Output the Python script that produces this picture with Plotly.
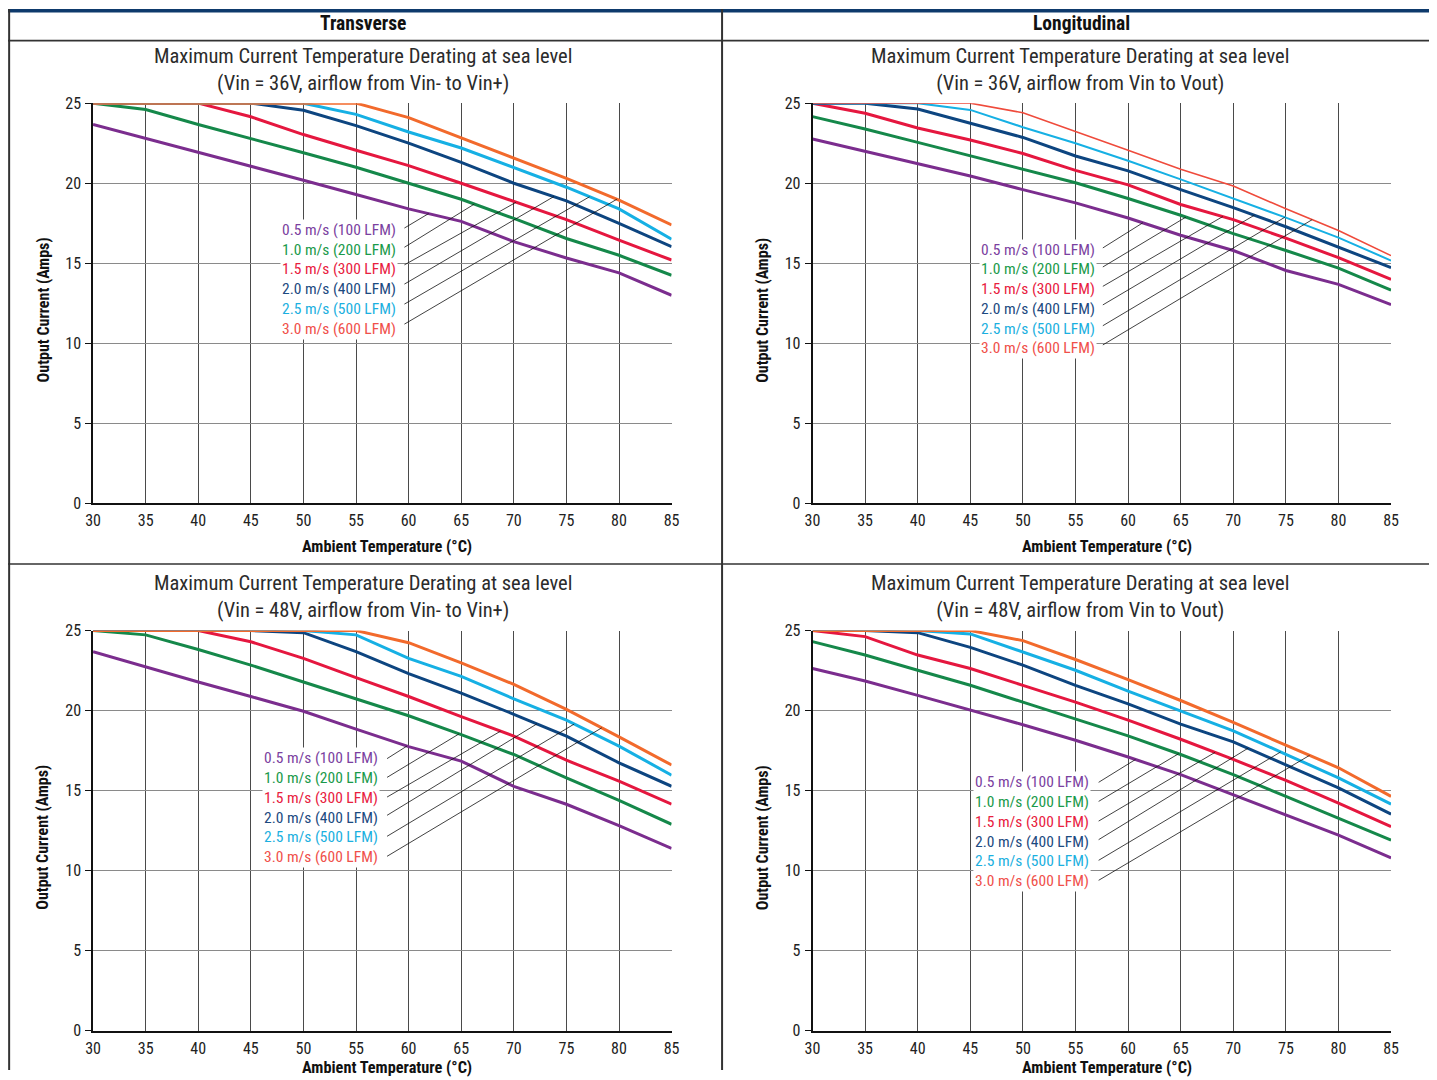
import numpy as np
import plotly.graph_objects as go

# ---------------- data ----------------
temps = [30, 35, 40, 45, 50, 55, 60, 65, 70, 75, 80, 85]
x_ticks = [30, 35, 40, 45, 50, 55, 60, 65, 70, 75, 80, 85]
y_ticks = [0, 5, 10, 15, 20, 25]

series_labels = ["0.5 m/s (100 LFM)", "1.0 m/s (200 LFM)", "1.5 m/s (300 LFM)",
                 "2.0 m/s (400 LFM)", "2.5 m/s (500 LFM)", "3.0 m/s (600 LFM)"]

# 36V, transverse (airflow Vin- to Vin+)
t36_05 = [23.67, 22.8, 21.96, 21.1, 20.19, 19.3, 18.4, 17.62, 16.35, 15.33, 14.4, 13.0]
t36_10 = [25.0, 24.6, 23.67, 22.8, 21.9, 21.0, 20.0, 19.0, 17.8, 16.55, 15.5, 14.25]
t36_15 = [25.0, 25.0, 25.0, 24.15, 23.04, 22.06, 21.1, 20.0, 18.85, 17.73, 16.45, 15.2]
t36_20 = [25.0, 25.0, 25.0, 25.0, 24.56, 23.6, 22.5, 21.3, 20.0, 18.9, 17.5, 16.04]
t36_25 = [25.0, 25.0, 25.0, 25.0, 25.0, 24.3, 23.2, 22.2, 21.0, 19.75, 18.4, 16.5]
t36_30 = [25.0, 25.0, 25.0, 25.0, 25.0, 25.0, 24.1, 22.83, 21.54, 20.3, 18.95, 17.4]

# 36V, longitudinal (airflow Vin to Vout)
l36_05 = [22.76, 22.0, 21.2, 20.45, 19.6, 18.77, 17.83, 16.75, 15.8, 14.55, 13.68, 12.42]
l36_10 = [24.16, 23.39, 22.55, 21.7, 20.87, 20.03, 19.05, 18.0, 16.85, 15.8, 14.7, 13.32]
l36_15 = [25.0, 24.37, 23.45, 22.7, 21.86, 20.8, 19.9, 18.67, 17.73, 16.57, 15.35, 14.0]
l36_20 = [25.0, 25.0, 24.64, 23.74, 22.86, 21.7, 20.77, 19.6, 18.48, 17.28, 16.0, 14.73]
l36_25 = [25.0, 25.0, 25.0, 24.58, 23.5, 22.5, 21.4, 20.24, 19.05, 17.85, 16.6, 15.17]
l36_30 = [25.0, 25.0, 25.0, 25.0, 24.4, 23.24, 22.06, 20.87, 19.82, 18.4, 17.05, 15.48]

# 48V, transverse
t48_05 = [23.68, 22.73, 21.79, 20.88, 19.96, 18.84, 17.75, 16.85, 15.27, 14.15, 12.82, 11.39]
t48_10 = [25.0, 24.73, 23.82, 22.84, 21.79, 20.74, 19.68, 18.5, 17.26, 15.8, 14.4, 12.9]
t48_15 = [25.0, 25.0, 25.0, 24.3, 23.26, 22.06, 20.88, 19.62, 18.41, 16.9, 15.59, 14.16]
t48_20 = [25.0, 25.0, 25.0, 25.0, 24.87, 23.68, 22.31, 21.09, 19.77, 18.41, 16.74, 15.27]
t48_25 = [25.0, 25.0, 25.0, 25.0, 25.0, 24.73, 23.26, 22.14, 20.74, 19.4, 17.78, 15.97]
t48_30 = [25.0, 25.0, 25.0, 25.0, 25.0, 25.0, 24.24, 22.98, 21.64, 20.08, 18.36, 16.6]

# 48V, longitudinal
l48_05 = [22.63, 21.85, 20.95, 20.04, 19.12, 18.15, 17.1, 16.0, 14.75, 13.5, 12.23, 10.8]
l48_10 = [24.31, 23.47, 22.52, 21.58, 20.53, 19.47, 18.42, 17.26, 16.0, 14.64, 13.28, 11.91]
l48_15 = [25.0, 24.62, 23.47, 22.63, 21.58, 20.53, 19.41, 18.21, 16.95, 15.64, 14.22, 12.75]
l48_20 = [25.0, 25.0, 24.87, 23.95, 22.84, 21.58, 20.42, 19.16, 18.05, 16.62, 15.17, 13.53]
l48_25 = [25.0, 25.0, 25.0, 24.79, 23.68, 22.52, 21.22, 20.0, 18.74, 17.27, 15.8, 14.16]
l48_30 = [25.0, 25.0, 25.0, 25.0, 24.37, 23.19, 21.93, 20.63, 19.26, 17.85, 16.43, 14.64]

panel_series = [
    [t36_05, t36_10, t36_15, t36_20, t36_25, t36_30],
    [l36_05, l36_10, l36_15, l36_20, l36_25, l36_30],
    [t48_05, t48_10, t48_15, t48_20, t48_25, t48_30],
    [l48_05, l48_10, l48_15, l48_20, l48_25, l48_30],
]

panel_titles = [
    "Maximum Current Temperature Derating at sea level<br>(Vin = 36V, airflow from Vin- to Vin+)",
    "Maximum Current Temperature Derating at sea level<br>(Vin = 36V, airflow from Vin to Vout)",
    "Maximum Current Temperature Derating at sea level<br>(Vin = 48V, airflow from Vin- to Vin+)",
    "Maximum Current Temperature Derating at sea level<br>(Vin = 48V, airflow from Vin to Vout)",
]
column_headers = ["Transverse", "Longitudinal"]
x_title = "Ambient Temperature (°C)"
y_title = "Output Current (Amps)"

# ---------------- styling / layout ----------------
W, H = 1437, 1080
# observed mapping of page pixels to the photographed picture
SHOT_OX, SHOT_SX = 6.9, 0.9896
SHOT_OY, SHOT_SY = 8.9, 0.9817
FONT = "Liberation Sans Narrow, Arial Narrow, Roboto Condensed, DejaVu Sans Condensed, sans-serif"
line_colors = ["#7B2D8E", "#15884A", "#E5173F", "#0D4580", "#16B0E4", "#F26A2C"]
label_colors = ["#7B3FA0", "#1A9A4A", "#E8203E", "#1B4A80", "#1BB0E0", "#F0504A"]
line_widths = [[3, 3, 3, 3, 3, 3], [3, 3, 3, 3, 2, 1.6], [3, 3, 3, 3, 3, 3], [3, 3, 3, 3, 3, 3]]
panel_top_right_30_color = "#EF4B3C"

def px_x(p):
    return max(0.0, (p - SHOT_OX) / SHOT_SX) / W

def px_y(p):
    return 1 - max(0.0, (p - SHOT_OY) / SHOT_SY) / H

# plot areas in picture pixels: (left, right, top, bottom)
areas = [(92, 671, 103, 503), (812, 1391, 103, 503), (92, 671, 630, 1030), (812, 1391, 630, 1030)]

# label layout per panel (data coordinates)
label_layout = [
    dict(tx=58.95, ty=[17.1, 15.85, 14.62, 13.38, 12.12, 10.88], sx=59.6,
         sy=[17.2, 16.0, 14.9, 13.7, 12.45, 11.2], ex=[61.9, 66.25, 70.2, 73.8, 77.2, 79.8]),
    dict(tx=57.05, ty=[15.85, 14.65, 13.4, 12.15, 10.9, 9.7], sx=57.6,
         sy=[15.96, 14.77, 13.56, 12.4, 11.1, 9.9], ex=[61.4, 65.5, 69.0, 72.0, 74.9, 77.5]),
    dict(tx=57.25, ty=[17.02, 15.78, 14.53, 13.28, 12.08, 10.83], sx=57.95,
         sy=[17.0, 15.83, 14.6, 13.46, 12.15, 10.9], ex=[59.84, 64.8, 68.74, 72.2, 75.74, 78.36]),
    dict(tx=56.5, ty=[15.52, 14.28, 13.03, 11.78, 10.6, 9.35], sx=57.2,
         sy=[15.52, 14.33, 13.1, 11.94, 10.65, 9.4], ex=[60.7, 64.8, 68.26, 71.4, 74.5, 77.26]),
]

fig = go.Figure()
layout = dict(
    width=W, height=H, margin=dict(l=0, r=0, t=0, b=0),
    paper_bgcolor="white", plot_bgcolor="white", showlegend=False,
    font=dict(family=FONT, color="#222", size=14),
)
annotations = []
shapes = []

for i, (series, area) in enumerate(zip(panel_series, areas)):
    l, r, t, b = area
    xa = "xaxis" if i == 0 else f"xaxis{i+1}"
    ya = "yaxis" if i == 0 else f"yaxis{i+1}"
    xref = "x" if i == 0 else f"x{i+1}"
    yref = "y" if i == 0 else f"y{i+1}"
    layout[xa] = dict(
        domain=[px_x(l), px_x(r)], anchor=yref, range=[30, 85],
        tickmode="array", tickvals=x_ticks, ticktext=[str(v) for v in x_ticks],
        showgrid=True, gridcolor="#4a4a4a", gridwidth=1,
        showline=True, linecolor="#111", linewidth=1.6, ticks="",
        zeroline=False, tickfont=dict(size=16, color="#222", family=FONT),
        ticklabelstandoff=2, fixedrange=True,
    )
    layout[ya] = dict(
        domain=[px_y(b), px_y(t)], anchor=xref, range=[0, 25],
        tickmode="array", tickvals=y_ticks, ticktext=[str(v) for v in y_ticks],
        showgrid=True, gridcolor="#8a8a8a", gridwidth=1.3,
        showline=True, linecolor="#111", linewidth=1.6,
        ticks="outside", ticklen=6, tickcolor="#111", tickwidth=1.2,
        zeroline=False, tickfont=dict(size=16, color="#222", family=FONT),
        ticklabelstandoff=1, fixedrange=True,
    )
    for k, ys in enumerate(series):
        color = line_colors[k]
        if i == 1 and k == 5:
            color = panel_top_right_30_color
        fig.add_trace(go.Scatter(
            x=temps, y=ys, mode="lines", name=series_labels[k],
            line=dict(color=color, width=line_widths[i][k]),
            xaxis=xref, yaxis=yref, hoverinfo="x+y+name",
        ))
    lay = label_layout[i]
    for k in range(6):
        ey = float(np.interp(lay["ex"][k], temps, series[k]))
        shapes.append(dict(type="line", xref=xref, yref=yref,
                           x0=lay["sx"], y0=lay["sy"][k], x1=lay["ex"][k], y1=ey,
                           line=dict(color="#111", width=0.8), layer="above"))
        annotations.append(dict(
            x=lay["tx"], y=lay["ty"][k], xref=xref, yref=yref,
            text=series_labels[k], showarrow=False, xanchor="right", yanchor="middle",
            font=dict(size=15.5, color=label_colors[k], family=FONT),
            bgcolor="white", borderpad=1,
        ))
    # panel title (centred on the cell)
    cx = 362 if i % 2 == 0 else 1080
    ty0 = 42 if i < 2 else 568
    annotations.append(dict(
        x=px_x(cx), y=px_y(ty0), xref="paper", yref="paper",
        text=panel_titles[i], showarrow=False, xanchor="center", yanchor="top",
        font=dict(size=20.5, color="#2b2b2b", family=FONT), align="center",
    ))
    # axis titles
    annotations.append(dict(
        x=px_x((l + r) / 2 + 5), y=px_y(min(b + 43, 1067)), xref="paper", yref="paper",
        text="<b>" + x_title + "</b>", showarrow=False, xanchor="center", yanchor="middle",
        font=dict(size=16.3, color="#111", family=FONT),
    ))
    annotations.append(dict(
        x=px_x(l - 50), y=px_y((t + b) / 2 + 7), xref="paper", yref="paper",
        text="<b>" + y_title + "</b>", showarrow=False, xanchor="center", yanchor="middle",
        textangle=-90, font=dict(size=16, color="#111", family=FONT),
    ))

# column headers
for j, hdr in enumerate(column_headers):
    cx = 362 if j == 0 else 1081
    annotations.append(dict(
        x=px_x(cx), y=px_y(23), xref="paper", yref="paper",
        text="<b>" + hdr + "</b>", showarrow=False, xanchor="center", yanchor="middle",
        font=dict(size=19.5, color="#111", family=FONT),
    ))

# frame: top bar, cell borders
shapes.append(dict(type="rect", xref="paper", yref="paper", x0=0, x1=1, y0=1 - 3.5 / H, y1=1,
                   fillcolor="#0E3A6C", line=dict(width=0), layer="above"))
frame_color = "#333"
shapes.append(dict(type="line", xref="paper", yref="paper", x0=0.0008, x1=0.0008, y0=0, y1=1,
                   line=dict(color=frame_color, width=2)))
shapes.append(dict(type="line", xref="paper", yref="paper", x0=px_x(721.5), x1=px_x(721.5), y0=0, y1=1,
                   line=dict(color=frame_color, width=2)))
shapes.append(dict(type="line", xref="paper", yref="paper", x0=0, x1=1, y0=px_y(40.5), y1=px_y(40.5),
                   line=dict(color=frame_color, width=1.6)))
shapes.append(dict(type="line", xref="paper", yref="paper", x0=0, x1=1, y0=px_y(563.5), y1=px_y(563.5),
                   line=dict(color=frame_color, width=1.6)))

layout["annotations"] = annotations
layout["shapes"] = shapes
fig.update_layout(**layout)
fig.write_html(
    "out.html",
    config={"displayModeBar": False},
    post_script="document.body.style.margin='0';document.body.style.overflow='hidden';",
)
